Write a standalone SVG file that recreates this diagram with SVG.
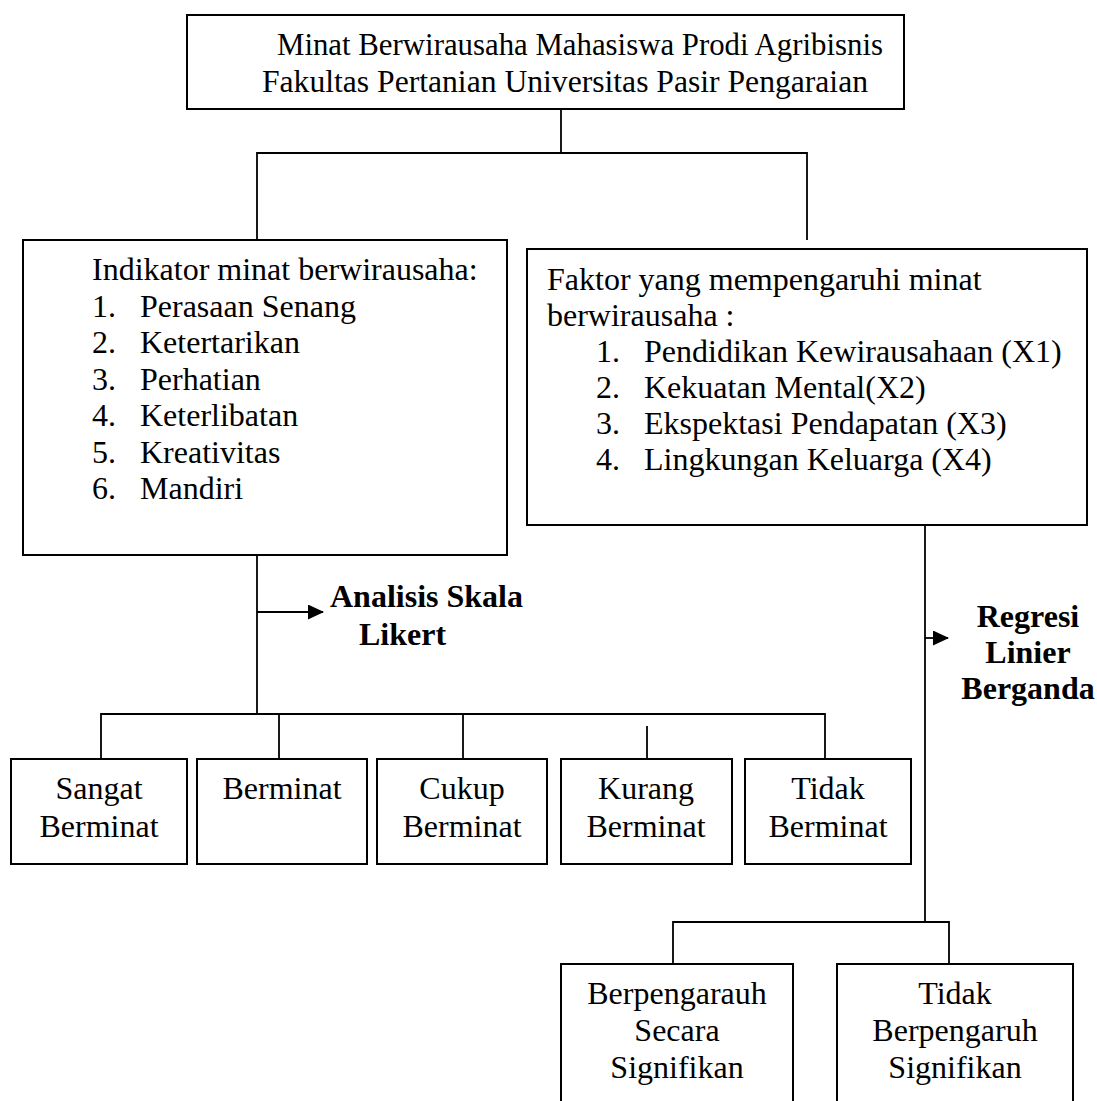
<svg xmlns="http://www.w3.org/2000/svg" width="1097" height="1101" viewBox="0 0 1097 1101">
<style>
  .box { fill: #ffffff; stroke: #000000; stroke-width: 2; }
  .ln { fill: none; stroke: #000000; stroke-width: 1.8; }
  text { font-family: "Liberation Serif", "Times New Roman", serif; font-size: 32px; fill: #000000; }
  .t { font-size: 31px; }
  .c { text-anchor: middle; }
  .b { font-weight: bold; }
</style>
<defs>
  <marker id="arr" markerWidth="16" markerHeight="16" refX="15" refY="7.5" orient="auto" markerUnits="userSpaceOnUse">
    <path d="M0,0 L16,7.5 L0,15 Z" fill="#000000"/>
  </marker>
</defs>
<rect width="1097" height="1101" fill="#ffffff"/>

<g id="connectors">
  <line class="ln" x1="561" y1="109" x2="561" y2="153"/>
  <polyline class="ln" points="257,240 257,153 807,153 807,240"/>
  <line class="ln" x1="257" y1="555" x2="257" y2="714"/>
  <line class="ln" x1="257" y1="612" x2="323" y2="612" marker-end="url(#arr)"/>
  <polyline class="ln" points="101,759 101,714 825,714 825,759"/>
  <line class="ln" x1="279" y1="713" x2="279" y2="759"/>
  <line class="ln" x1="463" y1="713" x2="463" y2="759"/>
  <line class="ln" x1="647" y1="726" x2="647" y2="759"/>
  <line class="ln" x1="925" y1="525" x2="925" y2="922"/>
  <line class="ln" x1="925" y1="638" x2="948" y2="638" marker-end="url(#arr)"/>
  <polyline class="ln" points="673,964 673,922 949,922 949,964"/>
</g>

<g id="node-title">
  <rect class="box" x="187" y="15" width="717" height="94"/>
  <text class="t" x="277" y="55" textLength="606" lengthAdjust="spacingAndGlyphs">Minat Berwirausaha Mahasiswa Prodi Agribisnis</text>
  <text class="t" x="262" y="92" textLength="606" lengthAdjust="spacingAndGlyphs">Fakultas Pertanian Universitas Pasir Pengaraian</text>
</g>

<g id="node-indikator">
  <rect class="box" x="23" y="240" width="484" height="315"/>
  <text x="92" y="280">Indikator minat berwirausaha:</text>
  <text x="92" y="316.5">1.</text><text x="140" y="316.5">Perasaan Senang</text>
  <text x="92" y="353">2.</text><text x="140" y="353">Ketertarikan</text>
  <text x="92" y="389.5">3.</text><text x="140" y="389.5">Perhatian</text>
  <text x="92" y="426">4.</text><text x="140" y="426">Keterlibatan</text>
  <text x="92" y="462.5">5.</text><text x="140" y="462.5">Kreativitas</text>
  <text x="92" y="499">6.</text><text x="140" y="499">Mandiri</text>
</g>

<g id="node-faktor">
  <rect class="box" x="527" y="249" width="560" height="276"/>
  <text x="547" y="290">Faktor yang mempengaruhi minat</text>
  <text x="547" y="326">berwirausaha :</text>
  <text x="596" y="362">1.</text><text x="644" y="362">Pendidikan Kewirausahaan (X1)</text>
  <text x="596" y="398">2.</text><text x="644" y="398">Kekuatan Mental(X2)</text>
  <text x="596" y="434">3.</text><text x="644" y="434">Ekspektasi Pendapatan (X3)</text>
  <text x="596" y="470">4.</text><text x="644" y="470">Lingkungan Keluarga (X4)</text>
</g>

<g id="label-likert">
  <text class="b" x="330" y="607">Analisis Skala</text>
  <text class="b" x="359" y="645">Likert</text>
</g>

<g id="label-regresi">
  <text class="b c" x="1028" y="627">Regresi</text>
  <text class="b c" x="1028" y="663">Linier</text>
  <text class="b c" x="1028" y="699">Berganda</text>
</g>

<g id="node-sangat">
  <rect class="box" x="11" y="759" width="176" height="105"/>
  <text class="c" x="99" y="799">Sangat</text>
  <text class="c" x="99" y="837">Berminat</text>
</g>
<g id="node-berminat">
  <rect class="box" x="197" y="759" width="170" height="105"/>
  <text class="c" x="282" y="799">Berminat</text>
</g>
<g id="node-cukup">
  <rect class="box" x="377" y="759" width="170" height="105"/>
  <text class="c" x="462" y="799">Cukup</text>
  <text class="c" x="462" y="837">Berminat</text>
</g>
<g id="node-kurang">
  <rect class="box" x="561" y="759" width="171" height="105"/>
  <text class="c" x="646" y="799">Kurang</text>
  <text class="c" x="646" y="837">Berminat</text>
</g>
<g id="node-tidak">
  <rect class="box" x="745" y="759" width="166" height="105"/>
  <text class="c" x="828" y="799">Tidak</text>
  <text class="c" x="828" y="837">Berminat</text>
</g>

<g id="node-berpengaruh">
  <rect class="box" x="561" y="964" width="232" height="140"/>
  <text class="c" x="677" y="1004">Berpengarauh</text>
  <text class="c" x="677" y="1041">Secara</text>
  <text class="c" x="677" y="1078">Signifikan</text>
</g>
<g id="node-tidak-berpengaruh">
  <rect class="box" x="837" y="964" width="236" height="140"/>
  <text class="c" x="955" y="1004">Tidak</text>
  <text class="c" x="955" y="1041">Berpengaruh</text>
  <text class="c" x="955" y="1078">Signifikan</text>
</g>
</svg>
